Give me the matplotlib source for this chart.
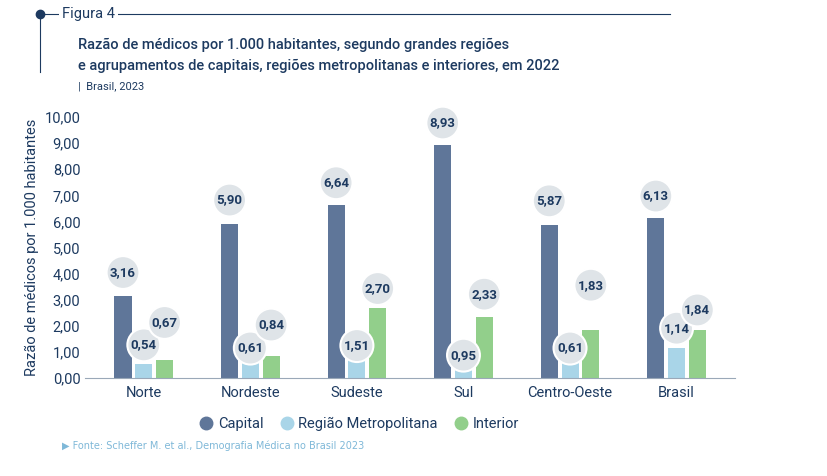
import matplotlib
matplotlib.use("Agg")
import matplotlib.pyplot as plt
from matplotlib.lines import Line2D
import numpy as np

regions = ["Norte", "Nordeste", "Sudeste", "Sul", "Centro-Oeste", "Brasil"]
capital = [3.16, 5.90, 6.64, 8.93, 5.87, 6.13]
metro = [0.54, 0.61, 1.51, 0.95, 0.61, 1.14]
interior = [0.67, 0.84, 2.70, 2.33, 1.83, 1.84]
series_names = ["Capital", "Região Metropolitana", "Interior"]
colors = ["#5f7699", "#a9d5e8", "#92cf8b"]
navy = "#1d3a60"

# label lift above bar top, in pixels (manual placement to avoid overlap)
label_dy = [
    [23, 24, 22, 22, 24, 22],
    [19, 14, -7, -2, 14, 20],
    [38, 31, 19, 23, 45, 20],
]

plt.rcParams["font.family"] = ["Roboto", "DejaVu Sans"]

fig = plt.figure(figsize=(8.27, 4.76), dpi=100)
ax = fig.add_axes([0.103, 0.206, 0.786, 0.548])

x = np.arange(len(regions))
w = 0.16
off = 0.195
for i, (vals, c) in enumerate(zip([capital, metro, interior], colors)):
    xs = x + (i - 1) * off
    ax.bar(xs, vals, width=w, color=c, label=series_names[i], zorder=2)
    for j, (xi, v) in enumerate(zip(xs, vals)):
        ax.annotate(f"{v:.2f}".replace(".", ","), (xi, v), xytext=(0, label_dy[i][j]),
                    textcoords="offset pixels", ha="center", va="center",
                    fontsize=9.5, fontweight="bold", color=navy, zorder=4 + i,
                    bbox=dict(boxstyle="circle,pad=0.26", fc="#dfe4e8", ec="white", lw=1.5))

ax.set_ylim(0, 10)
ax.set_xlim(-0.55, 5.55)
ax.set_yticks(np.arange(0, 11, 1))
ax.set_yticklabels([f"{v:.2f}".replace(".", ",") for v in np.arange(0, 11, 1)],
                   fontsize=10.5, color=navy)
ax.set_xticks(x)
ax.set_xticklabels(regions, fontsize=10.5, color=navy)
ax.tick_params(length=0)
ax.tick_params(axis="x", pad=6)
for s in ["top", "right", "left"]:
    ax.spines[s].set_visible(False)
ax.spines["bottom"].set_color("#9aa8b8")
ax.set_ylabel("Razão de médicos por 1.000 habitantes", fontsize=10.5, color=navy)

handles = [Line2D([], [], marker="o", ls="", markersize=9, color=c) for c in colors]
ax.legend(handles, series_names, loc="upper center", bbox_to_anchor=(0.42, -0.1), ncol=3,
          frameon=False, fontsize=10.5, labelcolor=navy, handletextpad=0.2,
          columnspacing=1.0, handlelength=1.2)

# header
fig.add_artist(Line2D([40 / 827, 670 / 827], [1 - 14 / 476] * 2, color=navy, lw=0.8))
fig.add_artist(Line2D([40 / 827, 40 / 827], [1 - 14 / 476, 1 - 72 / 476], color=navy, lw=0.8))
fig.add_artist(Line2D([40 / 827], [1 - 14 / 476], marker="o", markersize=6, color=navy))
fig.text(62 / 827, 1 - 14 / 476, "Figura 4", fontsize=10.5, color=navy, va="center",
         bbox=dict(fc="white", ec="none", pad=2))
fig.text(78 / 827, 1 - 45 / 476, "Razão de médicos por 1.000 habitantes, segundo grandes regiões",
         fontsize=10.5, color=navy, va="center", fontweight="medium")
fig.text(78 / 827, 1 - 66 / 476, "e agrupamentos de capitais, regiões metropolitanas e interiores, em 2022",
         fontsize=10.5, color=navy, va="center", fontweight="medium")
fig.text(78 / 827, 1 - 86 / 476, "|  Brasil, 2023", fontsize=8, color=navy, va="center")
fig.text(62 / 827, 1 - 446 / 476, "▶ Fonte: Scheffer M. et al., Demografia Médica no Brasil 2023",
         fontsize=7, color="#7fb8d8", va="center", family=["DejaVu Sans"])

fig.savefig("out.png", dpi=100)
